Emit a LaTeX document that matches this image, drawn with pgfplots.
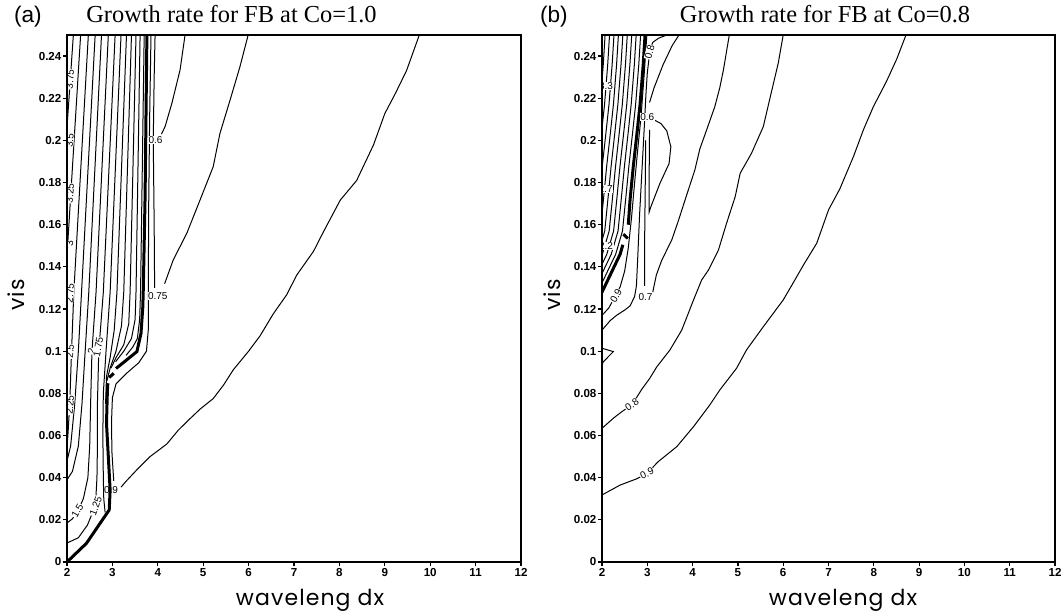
\documentclass[border=0pt]{standalone}
\usepackage{fontspec}
\setmainfont{Liberation Sans}
\newfontfamily\titlefont{Liberation Serif}
\newfontfamily\labelfont[LetterSpace=5]{Poppins}
\usepackage{pgfplots}
\pgfplotsset{compat=1.18}
\tikzset{
  lbl/.style={fill=white, inner sep=0.25pt, font=\fontsize{5}{5}\selectfont},
}
\pgfplotsset{
  panel/.style={
    scale only axis, width=227pt, height=263.5pt,
    xmin=2, xmax=12, ymin=0, ymax=0.25,
    xtick={2,3,4,5,6,7,8,9,10,11,12},
    xticklabels={2,3,4,5,6,7,8,9,10,11,12},
    ytick={0,0.02,0.04,0.06,0.08,0.1,0.12,0.14,0.16,0.18,0.2,0.22,0.24},
    yticklabels={0,0.02,0.04,0.06,0.08,0.1,0.12,0.14,0.16,0.18,0.2,0.22,0.24},
    tick pos=left, tick align=outside, major tick length=2pt,
    tick style={black, line width=0.6pt},
    axis line style={line width=0.9pt},
    ticklabel style={font=\bfseries\fontsize{5.8}{6}\selectfont},
    yticklabel style={inner xsep=0.6pt},
    xticklabel style={inner ysep=1pt},
    axis on top,
    clip=true,
  },
  cl/.style={black, line width=0.5pt},
  ck/.style={black, line width=1.5pt},
}
\begin{document}
\begin{tikzpicture}
\useasboundingbox (0,0) rectangle (532pt,307.5pt);
% ---------------- panel (a) ----------------
\begin{axis}[panel, at={(33.5pt,26.5pt)}, anchor=south west]
% thick contour
\addplot[ck] coordinates {(2.0,0.0) (2.43,0.0089) (2.73,0.0184) (2.93,0.0247) (2.95,0.0342) (2.91,0.05) (2.87,0.0658) (2.89,0.0816) (2.90,0.0848)};
\addplot[ck] coordinates {(2.93,0.0875) (3.03,0.0895)};
\addplot[ck] coordinates {(3.08,0.0918) (3.31,0.0958) (3.54,0.0998) (3.63,0.1085) (3.67,0.1211) (3.68,0.129) (3.72,0.1733) (3.76,0.25)};
% left family
\addplot[cl] coordinates {(2.14,0.25) (1.75,0.128)};
\addplot[cl] coordinates {(2.30,0.25) (1.95,0.128)};
\addplot[cl] coordinates {(2.47,0.25) (2.15,0.128) (2.10,0.1) (2.06,0.075) (2.02,0.06) (2.0,0.055) (1.98,0.052)};
\addplot[cl] coordinates {(2.62,0.25) (2.32,0.128) (2.25,0.1) (2.17,0.075) (2.08,0.055) (2.0,0.048)};
\addplot[cl] coordinates {(2.76,0.25) (2.48,0.128) (2.40,0.1) (2.33,0.075) (2.25,0.055) (2.12,0.043) (2.0,0.039)};
\addplot[cl] coordinates {(2.91,0.25) (2.64,0.128) (2.55,0.1) (2.52,0.075) (2.50,0.055) (2.46,0.04) (2.36,0.03) (2.24,0.0243) (2.12,0.0205) (2.0,0.0185)};
\addplot[cl] coordinates {(3.06,0.25) (2.80,0.128) (2.70,0.1) (2.67,0.075) (2.67,0.055) (2.66,0.04) (2.64,0.032) (2.62,0.0265) (2.45,0.0175) (2.25,0.0115) (2.0,0.009)};
\addplot[cl] coordinates {(3.19,0.25) (2.95,0.128) (2.86,0.1) (2.80,0.08) (2.79,0.06) (2.80,0.04) (2.81,0.03) (2.84,0.0235)};
\addplot[cl] coordinates {(3.31,0.25) (3.10,0.128) (3.04,0.11) (2.95,0.097) (2.87,0.088) (2.85,0.075)};
\addplot[cl] coordinates {(3.42,0.25) (3.25,0.128) (3.20,0.112) (3.08,0.1) (2.95,0.092) (2.88,0.086)};
\addplot[cl] coordinates {(3.52,0.25) (3.39,0.128) (3.36,0.113) (3.25,0.103) (3.08,0.097) (2.97,0.092)};
\addplot[cl] coordinates {(3.61,0.25) (3.52,0.128) (3.50,0.115) (3.42,0.106) (3.25,0.1) (3.07,0.095)};
\addplot[cl] coordinates {(3.70,0.25) (3.62,0.128) (3.60,0.115) (3.55,0.106) (3.45,0.102) (3.30,0.098)};
% right of thick
\addplot[cl] coordinates {(3.03,0.0385) (3.01,0.045) (2.99,0.052) (2.98,0.066) (3.00,0.078) (3.08,0.0845) (3.31,0.0895) (3.58,0.0945) (3.75,0.1) (3.79,0.11) (3.79,0.128) (3.80,0.17) (3.82,0.21) (3.85,0.25)};
\addplot[cl] coordinates {(3.19,0.0355) (3.31,0.0385) (3.55,0.044) (3.83,0.05) (4.20,0.056) (4.45,0.0625) (4.71,0.068) (4.93,0.0725) (5.22,0.0775) (5.45,0.084) (5.66,0.0911) (6.0,0.1) (6.25,0.1072) (6.54,0.1176) (6.84,0.1268) (7.06,0.1361) (7.43,0.1474) (7.65,0.1567) (8.02,0.1717) (8.38,0.181) (8.75,0.1978) (9.00,0.2127) (9.25,0.223) (9.48,0.2332) (9.76,0.25)};
\addplot[cl] coordinates {(4.15,0.132) (4.34,0.1433) (4.64,0.156) (4.93,0.1717) (5.22,0.1875) (5.37,0.2034) (5.59,0.219) (5.81,0.235) (5.99,0.25)};
\addplot[cl] coordinates {(3.93,0.13) (3.92,0.16) (3.90,0.2) (3.92,0.23) (3.94,0.25)};
\addplot[cl] coordinates {(4.08,0.203) (4.16,0.2065) (4.31,0.2176) (4.49,0.2334) (4.6,0.25)};
% labels
\node[lbl, rotate=85] at (2.065,0.229) {3.75};
\node[lbl, rotate=85] at (2.06,0.2) {3.5};
\node[lbl, rotate=85] at (2.065,0.175) {3.25};
\node[lbl, rotate=85] at (2.06,0.151) {3};
\node[lbl, rotate=85] at (2.065,0.1275) {2.75};
\node[lbl, rotate=85] at (2.065,0.1) {2.5};
\node[lbl, rotate=85] at (2.065,0.0745) {2.25};
\node[lbl, rotate=80] at (2.54,0.1) {2};
\node[lbl, rotate=80] at (2.69,0.102) {1.75};
\node[lbl, rotate=60] at (2.23,0.0243) {1.5};
\node[lbl, rotate=70] at (2.63,0.0265) {1.25};
\node[lbl, fill=none] at (2.97,0.034) {0.9};
\node[lbl] at (4.0,0.126) {0.75};
\node[lbl] at (3.95,0.2) {0.6};
\end{axis}
% ---------------- panel (b) ----------------
\begin{axis}[panel, at={(301pt,26.5pt)}, anchor=south west, width=226.5pt]
% thick contour
\addplot[ck] coordinates {(2.0,0.128) (2.2,0.137) (2.40,0.146) (2.46,0.1505)};
\addplot[ck] coordinates {(2.47,0.1555) (2.57,0.1535)};
\addplot[ck] coordinates {(2.58,0.160) (2.62,0.172) (2.69,0.1875) (2.77,0.203) (2.84,0.217) (2.91,0.236) (2.95,0.25)};
% left family
\addplot[cl] coordinates {(1.902,0.128) (2.102,0.137) (2.302,0.146) (2.452,0.157) (2.522,0.172) (2.592,0.1875) (2.672,0.203) (2.742,0.217) (2.812,0.236) (2.852,0.25)};
\addplot[cl] coordinates {(1.804,0.128) (2.004,0.137) (2.204,0.146) (2.354,0.157) (2.424,0.172) (2.494,0.1875) (2.574,0.203) (2.644,0.217) (2.714,0.236) (2.754,0.25)};
\addplot[cl] coordinates {(1.906,0.137) (2.106,0.146) (2.256,0.157) (2.326,0.172) (2.396,0.1875) (2.476,0.203) (2.546,0.217) (2.616,0.236) (2.656,0.25)};
\addplot[cl] coordinates {(1.808,0.137) (2.008,0.146) (2.158,0.157) (2.228,0.172) (2.298,0.1875) (2.378,0.203) (2.448,0.217) (2.518,0.236) (2.558,0.25)};
\addplot[cl] coordinates {(1.91,0.146) (2.06,0.157) (2.13,0.172) (2.20,0.1875) (2.28,0.203) (2.35,0.217) (2.42,0.236) (2.46,0.25)};
\addplot[cl] coordinates {(1.962,0.157) (2.032,0.172) (2.102,0.1875) (2.182,0.203) (2.252,0.217) (2.322,0.236) (2.362,0.25)};
\addplot[cl] coordinates {(1.934,0.172) (2.004,0.1875) (2.084,0.203) (2.154,0.217) (2.224,0.236) (2.264,0.25)};
\addplot[cl] coordinates {(1.906,0.1875) (1.986,0.203) (2.056,0.217) (2.126,0.236) (2.166,0.25)};
\addplot[cl] coordinates {(1.888,0.203) (1.958,0.217) (2.028,0.236) (2.068,0.25)};
% right of thick
\addplot[cl] coordinates {(2.0,0.117) (2.15,0.1205) (2.40,0.1305) (2.50,0.138) (2.58,0.149) (2.65,0.163) (2.72,0.18) (2.79,0.196) (2.86,0.211) (2.93,0.231) (2.99,0.25)};
\addplot[cl] coordinates {(2.0,0.110) (2.18,0.1145) (2.32,0.117) (2.50,0.1195) (2.62,0.1215) (2.72,0.126) (2.76,0.131) (2.79,0.145) (2.83,0.165) (2.88,0.185) (2.93,0.205) (2.97,0.222) (3.0,0.232) (3.06,0.243) (3.12,0.2465) (3.25,0.2485) (3.43,0.25)};
\addplot[cl] coordinates {(2.94,0.131) (2.94,0.15) (2.95,0.17) (2.96,0.19) (2.965,0.2)};
\addplot[cl] coordinates {(3.12,0.128) (3.2,0.1362) (3.32,0.1432) (3.54,0.1528) (3.68,0.1615) (3.86,0.1735) (4.05,0.186) (4.16,0.196) (4.31,0.205) (4.49,0.216) (4.60,0.225) (4.68,0.2334) (4.81,0.25)};
\addplot[cl] coordinates {(3.17,0.2095) (3.3,0.208) (3.43,0.2045) (3.52,0.197) (3.48,0.189) (3.28,0.1797) (3.08,0.1686) (3.04,0.166) (3.04,0.18) (3.045,0.195) (3.05,0.205)};
\addplot[cl] coordinates {(3.05,0.218) (3.15,0.225) (3.35,0.236) (3.55,0.245) (3.70,0.25)};
\addplot[cl] coordinates {(2.0,0.1014) (2.25,0.0998) (2.03,0.095) (2.0,0.0935)};
\addplot[cl] coordinates {(2.0,0.0634) (2.25,0.0682) (2.45,0.0715) (2.66,0.0745) (2.88,0.082) (3.05,0.087) (3.21,0.0926) (3.50,0.1006) (3.76,0.11) (4.02,0.1243) (4.20,0.1338) (4.35,0.1385) (4.57,0.148) (4.75,0.1607) (4.94,0.1733) (5.05,0.1844) (5.30,0.1939) (5.56,0.2065) (5.75,0.2239) (5.89,0.2366) (6.0,0.25)};
\addplot[cl] coordinates {(2.0,0.0318) (2.40,0.0365) (2.77,0.0395) (2.99,0.042) (3.24,0.0476) (3.65,0.0547) (4.02,0.0642) (4.38,0.0745) (4.60,0.0816) (4.97,0.0919) (5.19,0.1006) (5.56,0.1116) (6.0,0.1243) (6.22,0.1324) (6.45,0.141) (6.74,0.1512) (7.0,0.167) (7.25,0.177) (7.55,0.1923) (7.77,0.205) (7.99,0.216) (8.28,0.228) (8.51,0.2388) (8.71,0.25)};
% labels
\node[lbl, rotate=75] at (3.05,0.242) {0.8};
\node[lbl] at (3.0,0.211) {0.6};
\node[lbl, rotate=60] at (2.31,0.1262) {0.9};
\node[lbl] at (2.96,0.1255) {0.7};
\node[lbl, rotate=35] at (2.66,0.0745) {0.8};
\node[lbl, rotate=25] at (2.99,0.042) {0.9};
\node[lbl] at (2.09,0.226) {3.3};
\node[lbl] at (2.08,0.177) {2.7};
\node[lbl] at (2.09,0.150) {2.2};
\end{axis}
% ---------------- titles and axis labels ----------------
\node[anchor=base west, font=\fontsize{11.3}{12}\selectfont] at (3.5pt,296pt) {(a)};
\node[anchor=base west, font=\fontsize{11.3}{12}\selectfont] at (266.5pt,296pt) {(b)};
\node[anchor=base, font=\titlefont\fontsize{12.2}{13}\selectfont] at (115.75pt,296pt) {Growth rate for FB at Co=1.0};
\node[anchor=base, font=\titlefont\fontsize{12.2}{13}\selectfont] at (412.5pt,296pt) {Growth rate for FB at Co=0.8};
\node[anchor=base, font=\labelfont\fontsize{11}{12}\selectfont] at (155pt,5pt) {waveleng dx};
\node[anchor=base, font=\labelfont\fontsize{11}{12}\selectfont] at (421.5pt,5pt) {waveleng dx};
\node[anchor=base, rotate=90, font=\labelfont\fontsize{11}{12}\selectfont] at (12.5pt,160pt) {vis};
\node[anchor=base, rotate=90, font=\labelfont\fontsize{11}{12}\selectfont] at (280pt,160pt) {vis};
\end{tikzpicture}
\end{document}
